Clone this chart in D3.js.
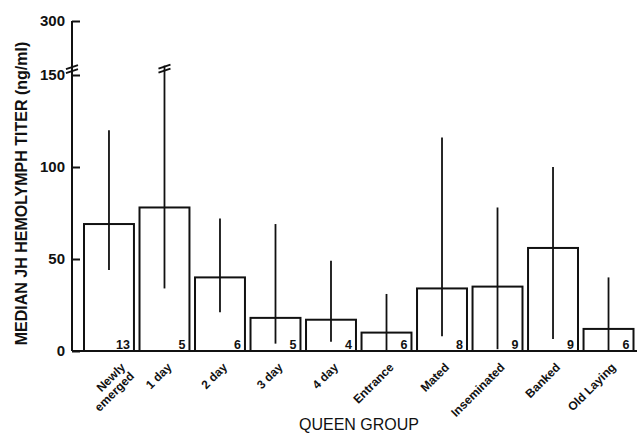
<!DOCTYPE html>
<html>
<head>
<meta charset="utf-8">
<script src="https://cdn.jsdelivr.net/npm/d3@7"></script>
<style>
  body { margin: 0; background: #fff; }
  text { font-family: "Liberation Sans", Arial, Helvetica, sans-serif; fill: #111; }
</style>
</head>
<body>
<div id="chart"></div>
<script>
// queen groups, median JH titer (ng/ml), range, and sample size
const groups = ["Newly emerged", "1 day", "2 day", "3 day", "4 day", "Entrance", "Mated", "Inseminated", "Banked", "Old Laying"]
const medians = [69, 78, 40, 18, 17, 10, 34, 35, 56, 12]
const upper = [120, 180, 72, 69, 49, 31, 116, 78, 100, 40]
const lower = [44, 34, 21, 4, 5, 0, 8, 1, 6.5, 0]
const counts = [13, 5, 6, 5, 4, 6, 8, 9, 9, 6]
const yTicks = [0, 50, 100, 150, 300]
const breakValue = 172

const width = 639, height = 433

const svg = d3.select('#chart').append('svg')
    .attr('width', width)
    .attr('height', height)

// broken axis: 0-150 gets most of the room, 150-300 is squeezed on top
let y = d3.scaleLinear().domain([0, 150, 300]).range([351, 75, 21])
let x = d3.scaleBand().domain(groups).range([84, 633.5]).paddingInner(0.1).paddingOuter(0)

const data = groups.map((g, i) => ({ g: g, med: medians[i], hi: upper[i], lo: lower[i], n: counts[i] }))

// baseline
svg.append('line')
    .attr('x1', 72).attr('x2', 637)
    .attr('y1', y(0)).attr('y2', y(0))
    .attr('stroke', '#111').attr('stroke-width', 2)

// bars
svg.selectAll('rect.bar')
    .data(data)
    .enter().append('rect')
    .attr('class', 'bar')
    .attr('x', d => x(d.g))
    .attr('y', d => y(d.med))
    .attr('width', x.bandwidth())
    .attr('height', d => y(0) - y(d.med))
    .attr('fill', '#fff')
    .attr('stroke', '#111')
    .attr('stroke-width', 2)

// range lines
svg.selectAll('line.range')
    .data(data)
    .enter().append('line')
    .attr('class', 'range')
    .attr('x1', d => x(d.g) + x.bandwidth() / 2)
    .attr('x2', d => x(d.g) + x.bandwidth() / 2)
    .attr('y1', d => y(Math.min(d.hi, breakValue + 4)))
    .attr('y2', d => y(d.lo))
    .attr('stroke', '#111')
    .attr('stroke-width', 1.8)

// sample sizes
svg.selectAll('text.n')
    .data(data)
    .enter().append('text')
    .attr('class', 'n')
    .attr('x', d => x(d.g) + x.bandwidth() - 4)
    .attr('y', y(0) - 2)
    .attr('text-anchor', 'end')
    .attr('font-size', 12.5)
    .attr('font-weight', 'bold')
    .text(d => d.n)

// y axis
const yAxis = svg.append('g')
    .attr('transform', 'translate(72,0)')
    .call(d3.axisLeft(y).tickValues(yTicks).tickSizeInner(-8).tickSizeOuter(0).tickPadding(7))
yAxis.select('.domain').attr('stroke', '#111').attr('stroke-width', 2)
    .attr('d', `M0,${y(300)}V${y(0)}`)
yAxis.selectAll('.tick line').attr('stroke', '#111').attr('stroke-width', 2)
yAxis.selectAll('.tick text')
    .attr('font-size', 15)
    .attr('font-weight', 'bold')
    .attr('font-family', '"Liberation Sans", Arial, sans-serif')
    .attr('fill', '#111')

// break marks on the axis and on the clipped range line
function breakMark(cx, cy) {
    for (let k = 0; k < 2; k++) {
        svg.append('line')
            .attr('x1', cx - 6).attr('x2', cx + 6)
            .attr('y1', cy + 2 + k * 4).attr('y2', cy - 2 + k * 4)
            .attr('stroke', '#111').attr('stroke-width', 1.8)
    }
}
breakMark(72, y(breakValue))
data.filter(d => d.hi > 150).forEach(d => breakMark(x(d.g) + x.bandwidth() / 2, y(breakValue + 4) + 1))

// x labels
const xl = svg.selectAll('text.xl')
    .data(data)
    .enter().append('text')
    .attr('class', 'xl')
    .attr('text-anchor', 'end')
    .attr('font-size', 12)
    .attr('font-weight', 'bold')
    .attr('transform', d => {
        let cx = x(d.g) + x.bandwidth() / 2
        return d.g === 'Newly emerged' ? `translate(${cx + 17},${368}) rotate(-45)` : `translate(${cx + 8},${368}) rotate(-45)`
    })
xl.each(function (d) {
    let t = d3.select(this)
    if (d.g === 'Newly emerged') {
        t.append('tspan').attr('x', 0).attr('dy', 0).text('Newly')
        t.append('tspan').attr('x', 0).attr('dy', '1.05em').text('emerged')
    } else {
        t.text(d.g)
    }
})

// axis titles
svg.append('text')
    .attr('transform', `translate(27,${(35 + 352) / 2}) rotate(-90)`)
    .attr('text-anchor', 'middle')
    .attr('font-size', 16)
    .attr('font-weight', 'bold')
    .text('MEDIAN JH HEMOLYMPH TITER (ng/ml)')

svg.append('text')
    .attr('x', 359)
    .attr('y', 430)
    .attr('text-anchor', 'middle')
    .attr('font-size', 16)
    .text('QUEEN GROUP')
</script>
</body>
</html>
